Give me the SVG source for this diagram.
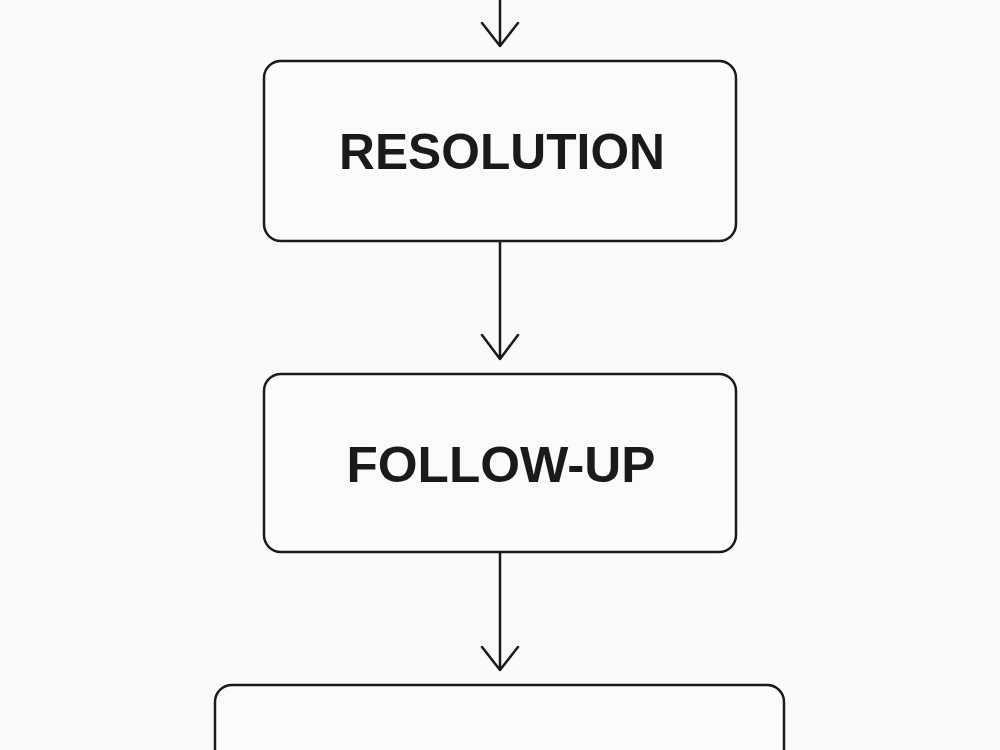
<svg xmlns="http://www.w3.org/2000/svg" width="1000" height="750" viewBox="0 0 1000 750">
<style>
.box{fill:#fdfbfa;stroke:#1a1a1a;stroke-width:2.5}
.lbl{font-family:"Liberation Sans",Arial,sans-serif;font-weight:bold;font-size:50px;fill:#1a1a1a;text-anchor:middle}
.conn{fill:none;stroke:#1a1a1a;stroke-width:2.5;stroke-linecap:round;stroke-linejoin:round}
</style>
<rect width="1000" height="750" fill="#fcfaf9"/>
<g id="connectors">
<path class="conn" d="M500,0 V46 M482,23 L500,46 L518,23"/>
<path class="conn" d="M500,241 V359 M482,335 L500,359 L518,335"/>
<path class="conn" d="M500,552 V670 M482,647 L500,670 L518,647"/>
</g>
<g id="resolution">
<rect class="box" x="264" y="61" width="472" height="180" rx="17"/>
<text class="lbl" x="502" y="169" textLength="326" lengthAdjust="spacingAndGlyphs">RESOLUTION</text>
</g>
<g id="follow-up">
<rect class="box" x="264" y="374" width="472" height="178" rx="17"/>
<text class="lbl" x="501" y="482" textLength="309" lengthAdjust="spacingAndGlyphs">FOLLOW-UP</text>
</g>
<g id="next">
<rect class="box" x="215" y="685" width="569" height="120" rx="17"/>
</g>
</svg>
